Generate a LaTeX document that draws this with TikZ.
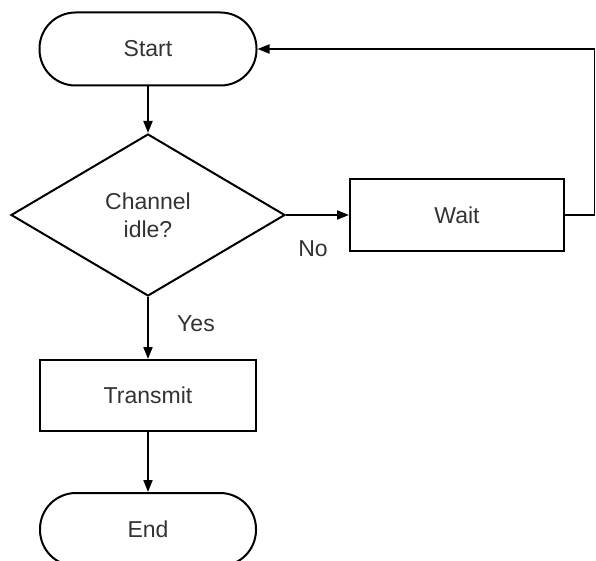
\documentclass[tikz,border=0pt]{standalone}
\usepackage{fontspec}
\setmainfont{Liberation Sans}
\usetikzlibrary{shapes.geometric,arrows.meta}
\begin{document}
\begin{tikzpicture}[x=1pt,y=-1pt,
  every node/.style={font=\fontsize{23}{28}\selectfont, text=black!80},
  boxstyle/.style={draw=black, line width=2pt, minimum width=216pt, minimum height=72pt, inner sep=0pt},
  termstyle/.style={boxstyle, rounded corners=36pt, minimum height=73pt},
  decstyle/.style={draw=black, line width=2pt, diamond, minimum width=274pt, minimum height=162pt, inner sep=0pt, align=center},
  conn/.style={draw=black, line width=1.8pt, -{Triangle[length=12pt,width=9pt]}},
  lbl/.style={inner sep=0pt}]
\useasboundingbox (0,0) rectangle (596,561);
\clip (0,0) rectangle (596,561);
\node[termstyle, minimum width=217pt] (start) at (148,49) {Start};
\node[decstyle] (dec) at (148,215) {Channel\\idle?};
\node[boxstyle, minimum width=214pt, minimum height=71pt] (wait) at (457,215) {Wait};
\node[boxstyle, minimum height=71pt] (trans) at (148,395.5) {Transmit};
\node[termstyle] (end) at (148,529.5) {End};
\coordinate (rc) at (594.5,49);
\draw[conn] (start.south) -- (dec.north);
\draw[conn] (dec.east) -- (wait.west);
\draw[conn] (wait.east) -| (rc) -- (start.east);
\draw[conn] (dec.south) -- (trans.north);
\draw[conn] (trans.south) -- (end.north);
\node[lbl] (no) at (313,249) {No};
\node[lbl] (yes) at (196,324) {Yes};
\end{tikzpicture}
\end{document}
